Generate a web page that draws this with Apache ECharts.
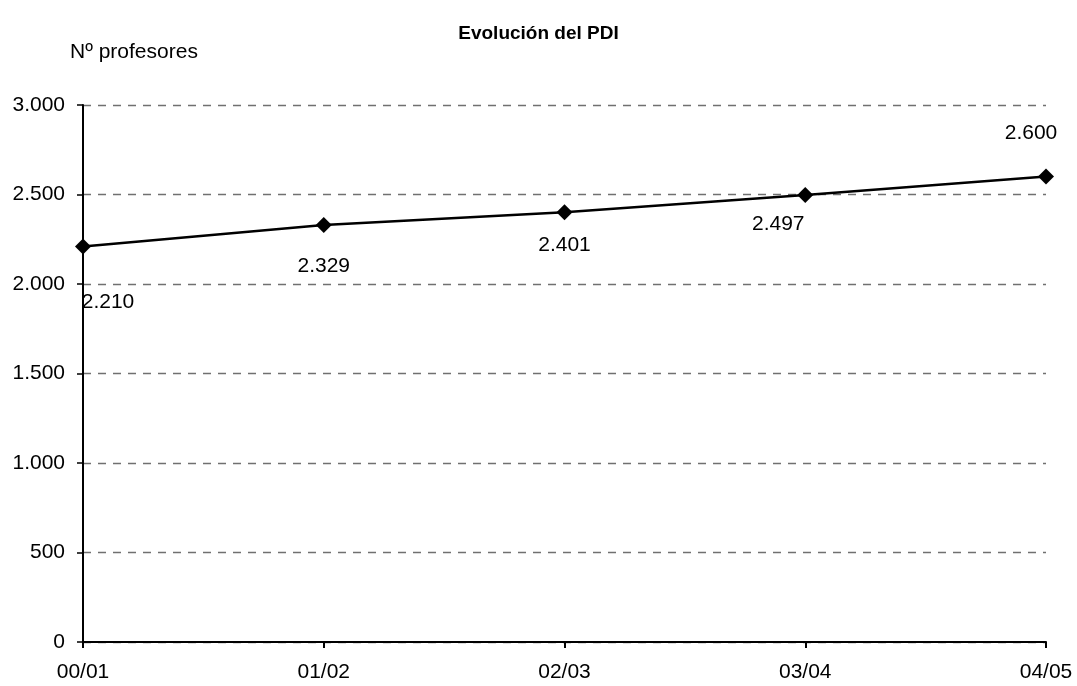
<!DOCTYPE html>
<html><head><meta charset="utf-8">
<script src="https://cdn.jsdelivr.net/npm/echarts@6/dist/echarts.min.js"></script>
<style>html,body{margin:0;padding:0;background:#fff}#c{width:1077px;height:686px}</style>
</head><body><div id="c"></div>
<script>
const categories = ['00/01','01/02','02/03','03/04','04/05'];
const values = [2210, 2329, 2401, 2497, 2600];
const labelOffsets = [[25,56],[0,41],[0,33],[-27,29],[-15,-43]];
const yTicks = [0,500,1000,1500,2000,2500,3000];

function fmt(v){ return String(v).replace(/\B(?=(\d{3})+(?!\d))/g,'.'); }

const chart = echarts.init(document.getElementById('c'));
const font = 'Liberation Sans, Arial, sans-serif';
chart.setOption({
  animation:false,
  title:{text:'Evolución del PDI',left:'center',top:19,textStyle:{fontFamily:font,fontSize:19,fontWeight:'bold',color:'#000'}},
  graphic:[{type:'text',left:70,top:42,style:{text:'Nº profesores',font:'21px '+font,fill:'#000'}}],
  grid:{left:83,right:31,top:105,bottom:44},
  xAxis:{type:'category',data:categories,boundaryGap:false,
    axisLine:{lineStyle:{color:'#000',width:2}},
    axisTick:{show:true,length:6,lineStyle:{color:'#000',width:2}},
    axisLabel:{fontFamily:font,fontSize:21,color:'#000',margin:20},
    splitLine:{show:false}},
  yAxis:{type:'value',min:0,max:3000,interval:500,
    axisLine:{show:true,lineStyle:{color:'#000',width:2}},
    axisTick:{show:true,length:6,lineStyle:{color:'#000',width:1.5}},
    axisLabel:{fontFamily:font,fontSize:21,color:'#000',margin:18,formatter:v=>fmt(v)},
    splitLine:{show:true,lineStyle:{color:'#707070',type:[8,7],width:1.3}}},
  series:[{type:'line',
    data:values.map((v,i)=>({value:v,label:{offset:labelOffsets[i]}})),
    symbol:'diamond',symbolSize:16,
    lineStyle:{color:'#000',width:2.5},
    itemStyle:{color:'#000'},
    label:{show:true,position:'inside',fontFamily:font,fontSize:21,color:'#000',formatter:p=>fmt(p.value)}
  }]
});
</script></body></html>
